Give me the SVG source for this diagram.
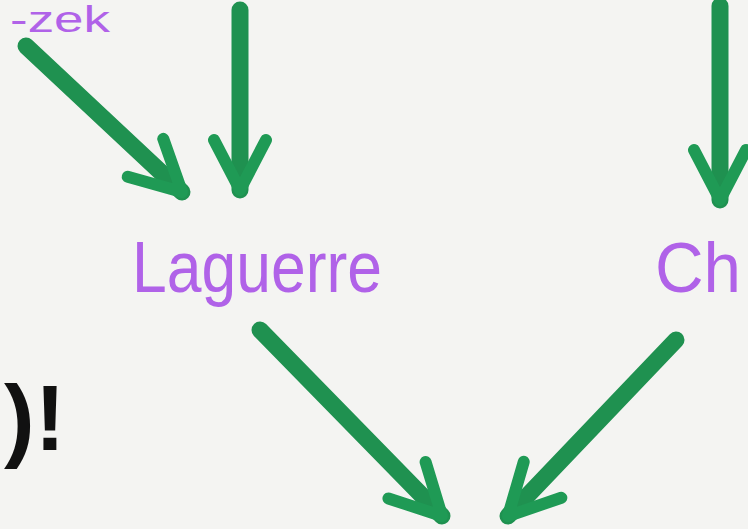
<svg xmlns="http://www.w3.org/2000/svg" width="748" height="529" viewBox="0 0 748 529">
<defs>
<style>
.lbl{font-family:"Liberation Sans",Arial,sans-serif;fill:#b062e8;font-weight:normal}
.shaft{stroke:#1f9150;stroke-width:17;stroke-linecap:round;fill:none}
.mk{font-family:"Liberation Sans",Arial,sans-serif;fill:#111;font-weight:bold}
</style>
<marker id="ah" markerUnits="userSpaceOnUse" markerWidth="80" markerHeight="80" refX="0" refY="0" viewBox="-60 -40 80 80" orient="auto" overflow="visible">
<path d="M -50 -26 L 0 0 L -50 26" fill="none" stroke="#1f9a55" stroke-width="12" stroke-linecap="round" stroke-linejoin="round"/>
</marker>
</defs>
<rect width="748" height="529" fill="#f4f4f2"/>
<g id="node-zek"><text class="lbl" x="10" y="32" font-size="36" textLength="100" lengthAdjust="spacingAndGlyphs">-zek</text></g>
<g id="node-laguerre"><text class="lbl" x="132" y="292" font-size="72" textLength="250" lengthAdjust="spacingAndGlyphs">Laguerre</text></g>
<g id="node-ch"><text class="lbl" x="655" y="292" font-size="70" textLength="86" lengthAdjust="spacingAndGlyphs">Ch</text></g>
<g id="node-excl"><text class="mk" x="4" y="450" font-size="92">)!</text></g>
<g id="connectors">
<line class="shaft" x1="26" y1="46" x2="182" y2="192" marker-end="url(#ah)"/>
<line class="shaft" x1="240" y1="10" x2="240" y2="190" marker-end="url(#ah)"/>
<line class="shaft" x1="720" y1="6" x2="720" y2="200" marker-end="url(#ah)"/>
<line class="shaft" x1="260" y1="330" x2="442" y2="516" marker-end="url(#ah)"/>
<line class="shaft" x1="676" y1="340" x2="508" y2="516" marker-end="url(#ah)"/>
</g>
</svg>
